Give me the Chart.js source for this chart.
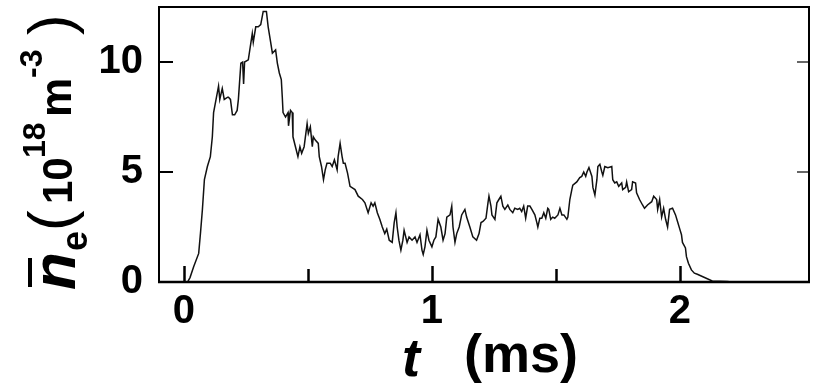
<!DOCTYPE html>
<html>
<head>
<meta charset="utf-8">
<script src="https://cdn.jsdelivr.net/npm/chart.js@4/dist/chart.umd.min.js"></script>
<style>
html,body{margin:0;padding:0;background:#fff;}
#c{display:block;}
</style>
</head>
<body>
<canvas id="c" width="815" height="386"></canvas>
<script>
// time (ms)
const tValues = [0.0,0.015,0.025,0.04,0.06,0.067,0.075,0.083,0.095,0.107,0.115,0.12,0.13,0.14,0.145,0.155,0.163,0.177,0.18,0.188,0.196,0.205,0.215,0.22,0.23,0.237,0.241,0.245,0.26,0.276,0.28,0.29,0.30,0.31,0.32,0.333,0.34,0.35,0.357,0.37,0.377,0.385,0.393,0.397,0.40,0.41,0.42,0.422,0.43,0.437,0.44,0.45,0.46,0.468,0.475,0.485,0.497,0.502,0.51,0.518,0.522,0.53,0.542,0.546,0.555,0.563,0.57,0.577,0.59,0.598,0.607,0.618,0.622,0.63,0.638,0.643,0.65,0.66,0.67,0.69,0.703,0.72,0.73,0.743,0.755,0.763,0.77,0.78,0.79,0.80,0.81,0.818,0.828,0.84,0.848,0.855,0.86,0.867,0.875,0.883,0.888,0.9,0.908,0.92,0.932,0.94,0.952,0.96,0.965,0.972,0.98,0.988,1.0,1.008,1.016,1.025,1.036,1.045,1.053,1.06,1.073,1.08,1.085,1.093,1.1,1.11,1.12,1.133,1.14,1.153,1.165,1.18,1.19,1.198,1.206,1.218,1.226,1.23,1.238,1.242,1.254,1.262,1.27,1.278,1.286,1.294,1.306,1.314,1.326,1.334,1.346,1.354,1.362,1.37,1.378,1.386,1.395,1.403,1.415,1.423,1.427,1.435,1.443,1.451,1.459,1.467,1.471,1.479,1.487,1.495,1.508,1.516,1.524,1.532,1.544,1.548,1.556,1.564,1.568,1.584,1.596,1.604,1.612,1.62,1.625,1.633,1.645,1.649,1.657,1.665,1.669,1.677,1.685,1.689,1.697,1.709,1.725,1.729,1.737,1.745,1.753,1.765,1.769,1.781,1.785,1.793,1.805,1.809,1.821,1.825,1.837,1.849,1.857,1.869,1.886,1.894,1.906,1.91,1.918,1.926,1.934,1.942,1.95,1.958,1.97,1.982,1.99,1.998,2.006,2.01,2.022,2.026,2.034,2.046,2.058,2.07,2.09,2.13,2.19,2.21];
// line-averaged electron density (10^18 m^-3)
const neValues = [0,0,0.2,0.7,1.3,2.2,3.3,4.65,5.25,5.7,6.6,7.7,8.3,8.9,8.3,8.8,8.3,8.4,8.4,8.3,7.6,7.6,7.8,8.3,9.95,10.0,9.0,10.0,10.1,11.3,10.9,11.6,11.6,11.7,12.3,12.3,11.6,10.9,10.4,10.55,9.95,9.5,9.2,8.4,7.7,7.5,7.7,7.1,7.8,7.7,6.6,6.15,5.7,6.15,5.85,6.15,7.2,6.75,7.05,6.15,6.6,6.45,6.3,5.7,5.25,4.65,5.1,5.4,5.4,5.25,5.55,5.1,5.7,6.3,5.7,5.4,5.4,4.95,4.35,4.2,3.9,3.75,3.6,3.15,3.6,3.45,3.6,3.15,2.85,2.5,2.2,2.4,1.9,1.8,2.7,3.15,2.5,1.9,1.45,1.9,2.35,1.8,2.05,1.9,2.05,1.8,2.15,1.45,1.25,1.6,2.35,1.9,1.6,1.9,2.05,2.85,2.5,1.9,2.2,2.95,3.05,3.45,2.5,1.8,2.2,2.5,3.05,3.3,2.95,2.5,2.05,1.9,2.2,2.7,2.75,2.9,3.6,3.9,3.45,3.05,2.85,3.6,3.75,3.9,3.45,3.3,3.5,3.3,3.15,3.35,3.3,3.35,3.2,3.45,2.9,3.45,3.45,3.3,3.05,2.7,2.5,2.9,2.9,3.15,2.9,3.35,3.3,2.85,2.95,2.9,3.05,3.35,3.05,3.05,2.85,2.95,3.75,4.2,4.4,4.55,4.75,4.8,5.0,4.8,5.0,5.2,4.8,4.3,3.95,4.65,5.25,5.35,5.0,4.85,5.25,5.2,5.25,4.65,4.5,4.55,4.35,4.5,4.2,4.3,4.55,4.1,4.2,4.55,4.5,4.05,3.75,3.5,3.35,3.5,3.65,3.9,3.75,3.3,3.75,2.95,3.35,2.85,2.5,3.3,3.35,3.05,2.75,2.45,2.15,1.8,1.55,1.15,0.85,0.55,0.4,0.35,0.25,0.05,0.02,0];
const xTickValues = [0, 1, 2];
const xMinorTicks = [0.5, 1.5];
const yTickValues = [0, 5, 10];
const yTickMarks = [5, 10];

const FONT = "'Liberation Sans', Arial, Helvetica, sans-serif";

const frameAndTicks = {
  id: 'frameAndTicks',
  afterDatasetsDraw(chart) {
    const {ctx, chartArea: a, scales: {x, y}} = chart;
    ctx.save();
    ctx.strokeStyle = '#000';
    ctx.lineCap = 'butt';
    ctx.lineWidth = 2.5;
    xTickValues.forEach(v => {
      const px = Math.round(x.getPixelForValue(v)) + 0.5;
      ctx.beginPath(); ctx.moveTo(px, a.bottom); ctx.lineTo(px, a.bottom - 16); ctx.stroke();
    });
    xMinorTicks.forEach(v => {
      const px = Math.round(x.getPixelForValue(v)) + 0.5;
      ctx.beginPath(); ctx.moveTo(px, a.bottom); ctx.lineTo(px, a.bottom - 13); ctx.stroke();
    });
    ctx.lineWidth = 2;
    yTickMarks.forEach(v => {
      const py = Math.round(y.getPixelForValue(v));
      ctx.beginPath(); ctx.moveTo(a.left, py); ctx.lineTo(a.left + 14, py); ctx.stroke();
    });
    ctx.lineWidth = 1.5;
    ctx.strokeStyle = '#333';
    yTickMarks.forEach(v => {
      const py = Math.round(y.getPixelForValue(v));
      ctx.beginPath(); ctx.moveTo(a.right, py); ctx.lineTo(a.right - 12, py); ctx.stroke();
    });
    ctx.strokeStyle = '#000';
    ctx.lineWidth = 2;
    ctx.strokeRect(a.left, a.top, a.right - a.left, a.bottom - a.top);
    ctx.lineWidth = 2.5;
    ctx.beginPath(); ctx.moveTo(a.left - 1, a.bottom); ctx.lineTo(a.right + 1, a.bottom); ctx.stroke();
    ctx.restore();
  },
  afterDraw(chart) {
    const ctx = chart.ctx;
    ctx.save();
    ctx.fillStyle = '#000';
    ctx.textBaseline = 'alphabetic';
    ctx.textAlign = 'left';
    // x axis title: t (ms)
    ctx.font = "italic bold 54px " + FONT;
    ctx.fillText('t', 402, 376);
    ctx.font = "bold 54px " + FONT;
    ctx.fillText('(ms)', 464, 372);
    // y axis title, rotated
    ctx.save();
    ctx.rotate(-Math.PI / 2);
    const piece = (txt, font, startY, base) => { ctx.font = font; ctx.fillText(txt, -startY, base); };
    piece('n', "italic bold 62px " + FONT, 290, 75);
    piece('e', "bold 36px " + FONT, 251, 87);
    piece('(', "62px " + FONT, 231, 71);
    piece('10', "bold 42px " + FONT, 204, 72);
    piece('18', "bold 32px " + FONT, 158, 45);
    piece('m', "bold 44px " + FONT, 117, 71);
    piece('-3', "bold 32px " + FONT, 78, 42);
    piece(')', "62px " + FONT, 35, 71);
    ctx.restore();
    ctx.fillRect(28, 258, 4, 29);
    ctx.restore();
  }
};

new Chart(document.getElementById('c'), {
  type: 'line',
  data: {
    datasets: [{
      data: tValues.map((t, i) => ({x: t, y: neValues[i]})),
      borderColor: '#111',
      borderWidth: 1.5,
      pointRadius: 0,
      tension: 0,
      fill: false
    }]
  },
  options: {
    responsive: false,
    animation: false,
    devicePixelRatio: 1,
    layout: {padding: {top: 7, right: 6, left: 0, bottom: 0}},
    plugins: {legend: {display: false}, tooltip: {enabled: false}},
    scales: {
      x: {
        type: 'linear', min: -0.1, max: 2.52,
        grid: {display: false, drawTicks: false},
        border: {display: false},
        ticks: {color: '#000', font: {family: FONT, size: 40, weight: 'bold'}, padding: 6, maxRotation: 0, autoSkip: false},
        afterBuildTicks: s => { s.ticks = xTickValues.map(v => ({value: v})); },
        afterFit: s => { s.height = 104; s.paddingLeft = 0; s.paddingRight = 0; }
      },
      y: {
        type: 'linear', min: 0, max: 12.5,
        grid: {display: false, drawTicks: false},
        border: {display: false},
        ticks: {color: '#000', font: {family: FONT, size: 40, weight: 'bold'}, padding: 16, autoSkip: false},
        afterBuildTicks: s => { s.ticks = yTickValues.map(v => ({value: v})); },
        afterFit: s => { s.width = 159; s.paddingTop = 0; s.paddingBottom = 0; }
      }
    }
  },
  plugins: [frameAndTicks]
});
</script>
</body>
</html>
